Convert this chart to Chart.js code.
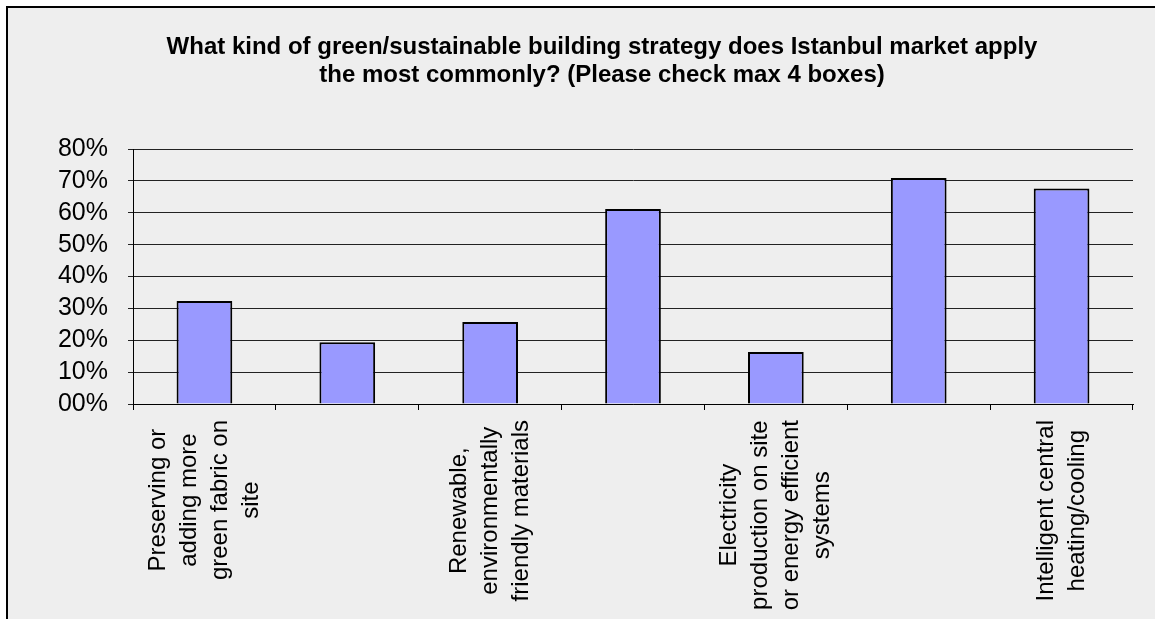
<!DOCTYPE html>
<html>
<head>
<meta charset="utf-8">
<script src="https://cdn.jsdelivr.net/npm/chart.js@4.4.0/dist/chart.umd.min.js"></script>
<style>
  body { margin: 0; background: #fff; }
  canvas { display: block; }
</style>
</head>
<body>
<canvas id="chartStrategy" width="1155" height="619"></canvas>
<script>
const titleLines = [
  'What kind of green/sustainable building strategy does Istanbul market apply',
  'the most commonly? (Please check max 4 boxes)'
];
// only every other category label is readable in the source
const categories = [
  ['Preserving or', 'adding more', 'green fabric on', 'site'],
  '',
  ['Renewable,', 'environmentally', 'friendly materials'],
  '',
  ['Electricity', 'production on site', 'or energy efficient', 'systems'],
  '',
  ['Intelligent central', 'heating/cooling']
];
const values = [32.3, 19.4, 25.7, 61.2, 16.3, 70.9, 67.6];
const yTicks = [0, 10, 20, 30, 40, 50, 60, 70, 80];

const fontFamily = '"Liberation Sans", Arial, sans-serif';

// grey panel with a black frame on top/left, like the pasted Excel chart
const framePlugin = {
  id: 'frame',
  beforeDraw(chart) {
    const ctx = chart.ctx;
    ctx.save();
    ctx.fillStyle = '#ffffff';
    ctx.fillRect(0, 0, chart.width, chart.height);
    ctx.fillStyle = '#eeeeee';
    ctx.fillRect(8, 8, chart.width - 8, chart.height - 8);
    ctx.fillStyle = '#000000';
    ctx.fillRect(6, 6, 2, chart.height - 6);
    ctx.fillRect(6, 6, chart.width - 6, 2);
    ctx.restore();
  }
};

// title is centred on the whole panel, not on the canvas minus padding
const titlePlugin = {
  id: 'panelTitle',
  afterDraw(chart) {
    const ctx = chart.ctx;
    ctx.save();
    ctx.font = 'bold 24px ' + fontFamily;
    ctx.fillStyle = '#000';
    ctx.textAlign = 'center';
    ctx.textBaseline = 'middle';
    titleLines.forEach((t, i) => ctx.fillText(t, 602, 47 + i * 28));
    ctx.restore();
  }
};

// rotated, centred multi-line category labels
const lineH = 31;
const verticalLabels = {
  id: 'verticalLabels',
  afterDraw(chart) {
    const ctx = chart.ctx;
    const xs = chart.scales.x;
    ctx.save();
    ctx.font = '24px ' + fontFamily;
    ctx.fillStyle = '#000';
    ctx.textAlign = 'center';
    ctx.textBaseline = 'middle';
    categories.forEach((lab, i) => {
      if (!Array.isArray(lab)) return;
      const widest = Math.max(...lab.map(t => ctx.measureText(t).width));
      const cx = xs.getPixelForValue(i);
      const cy = xs.top + 16 + widest / 2;
      lab.forEach((t, j) => {
        ctx.save();
        ctx.translate(cx + (j - (lab.length - 1) / 2) * lineH, cy);
        ctx.rotate(-Math.PI / 2);
        ctx.fillText(t, 0, 0);
        ctx.restore();
      });
    });
    ctx.restore();
  }
};

const ctx = document.getElementById('chartStrategy').getContext('2d');

const myChart = new Chart(ctx, {
  type: 'bar',
  data: {
    labels: categories,
    datasets: [{
      data: values,
      backgroundColor: '#9999ff',
      borderColor: '#000000',
      borderWidth: 2,
      barPercentage: 0.39,
      categoryPercentage: 1
    }]
  },
  options: {
    responsive: false,
    animation: false,
    layout: {
      padding: { left: 0, right: 22, top: 149, bottom: 0 }
    },
    plugins: {
      legend: { display: false },
      tooltip: { enabled: false },
      title: { display: false }
    },
    scales: {
      x: {
        ticks: { display: false },
        grid: {
          drawOnChartArea: false,
          drawTicks: true,
          tickLength: 6,
          color: '#000',
          offset: true
        },
        border: { color: '#000', width: 1 },
        afterFit(scale) { scale.height = 619 - 404; }
      },
      y: {
        min: 0,
        max: 80,
        afterBuildTicks(scale) { scale.ticks = yTicks.map(v => ({ value: v })); },
        ticks: {
          color: '#000',
          padding: 20,
          autoSkip: false,
          font: { family: fontFamily, size: 25 },
          callback: v => (v < 10 ? '0' : '') + v + '%'
        },
        grid: { color: '#222', tickLength: 5, drawTicks: true },
        border: { color: '#000', width: 1 },
        afterFit(scale) { scale.width = 133; }
      }
    }
  },
  plugins: [framePlugin, titlePlugin, verticalLabels]
});
</script>
</body>
</html>
